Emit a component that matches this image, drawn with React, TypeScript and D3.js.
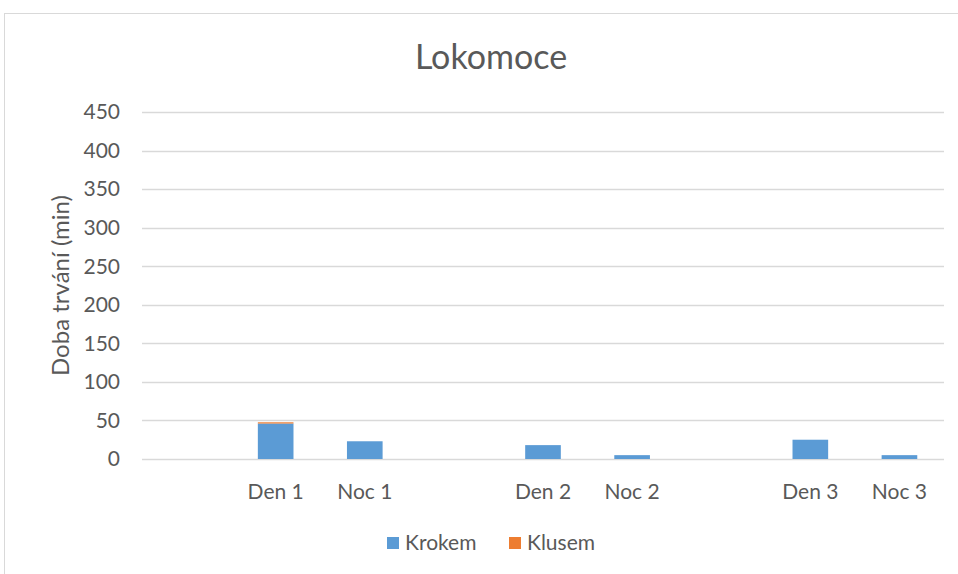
import React, { useEffect, useRef } from "react";
import * as d3 from "d3";

const categories = ["", "Den 1", "Noc 1", " ", "Den 2", "Noc 2", "  ", "Den 3", "Noc 3"];
const krokem = [0, 46, 23, 0, 18, 5, 0, 25, 5];
const klusem = [0, 1.6, 0, 0, 0, 0, 0, 0, 0];
const yTicks = [0, 50, 100, 150, 200, 250, 300, 350, 400, 450];
const seriesNames = ["Krokem", "Klusem"];
const colors = ["#5b9bd5", "#ed7d31"];

const FONT = "Lato, 'Open Sans', sans-serif";

export default function App() {
  const ref = useRef<SVGSVGElement>(null);

  useEffect(() => {
    document.body.style.margin = "0";
    const width = 958, height = 574;
    const margin = { top: 112, right: 14, bottom: 115, left: 142 };

    const svg = d3.select(ref.current);
    svg.selectAll("*").remove();

    // chart frame
    svg.append("rect")
      .attr("x", 4.5).attr("y", 13.5)
      .attr("width", 980).attr("height", 600)
      .attr("fill", "white").attr("stroke", "#d9d9d9");

    const x = d3.scaleBand().domain(categories)
      .range([margin.left, width - margin.right])
      .paddingInner(0.6).paddingOuter(0.3);
    const y = d3.scaleLinear().domain([0, 450])
      .range([height - margin.bottom, margin.top]);

    // gridlines
    svg.append("g").selectAll("line").data(yTicks).join("line")
      .attr("x1", margin.left).attr("x2", width - margin.right)
      .attr("y1", d => Math.round(y(d)) + 0.5).attr("y2", d => Math.round(y(d)) + 0.5)
      .attr("stroke", "#d9d9d9").attr("stroke-width", 1.3);

    // y tick labels
    svg.append("g").selectAll("text").data(yTicks).join("text")
      .attr("x", 120).attr("y", d => y(d))
      .attr("dy", "0.35em").attr("text-anchor", "end")
      .attr("font-family", FONT).attr("font-size", 21).attr("fill", "#595959")
      .text(d => d);

    // stacked bars
    const rows = categories.map((c, i) => ({ cat: c, Krokem: krokem[i], Klusem: klusem[i] }));
    const stacked = d3.stack<any>().keys(seriesNames)(rows);
    svg.append("g").selectAll("g").data(stacked).join("g")
      .attr("fill", (_, i) => colors[i])
      .selectAll("rect").data(d => d.filter(p => p[1] - p[0] > 0)).join("rect")
      .attr("x", d => x(d.data.cat)!)
      .attr("width", x.bandwidth())
      .attr("y", d => y(d[1]))
      .attr("height", d => y(d[0]) - y(d[1]));

    // x labels
    svg.append("g").selectAll("text").data(categories.filter(c => c.trim() !== "")).join("text")
      .attr("x", d => x(d)! + x.bandwidth() / 2).attr("y", 499)
      .attr("text-anchor", "middle")
      .attr("font-family", FONT).attr("font-size", 21).attr("fill", "#595959")
      .text(d => d);

    // title
    svg.append("text")
      .attr("x", 491).attr("y", 69).attr("text-anchor", "middle")
      .attr("font-family", FONT).attr("font-size", 34).attr("fill", "#595959")
      .text("Lokomoce");

    // y axis title
    svg.append("text")
      .attr("transform", "translate(69," + (y(225)) + ") rotate(-90)")
      .attr("text-anchor", "middle")
      .attr("font-family", FONT).attr("font-size", 24).attr("fill", "#595959")
      .text("Doba trvání (min)");

    // legend
    const legendX = [387, 509];
    const lg = svg.append("g").selectAll("g").data(seriesNames).join("g")
      .attr("transform", (_, i) => "translate(" + legendX[i] + ",537)");
    lg.append("rect").attr("width", 12).attr("height", 12)
      .attr("fill", (_, i) => colors[i]);
    lg.append("text").attr("x", 18).attr("y", 6).attr("dy", "0.35em")
      .attr("font-family", FONT).attr("font-size", 21).attr("fill", "#595959")
      .text(d => d);
  }, []);

  return <svg ref={ref} width={958} height={574} style={{ display: "block" }} />;
}
